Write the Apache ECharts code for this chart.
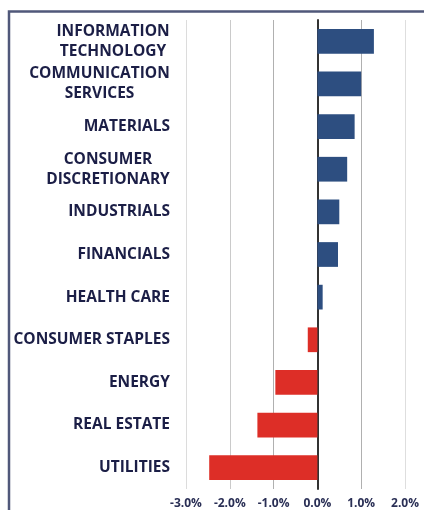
<!DOCTYPE html>
<html><head><meta charset="utf-8">
<script src="https://cdn.jsdelivr.net/npm/echarts@6/dist/echarts.min.js"></script>
<style>html,body{margin:0;padding:0;background:#fff}#c{width:424px;height:510px}</style>
</head><body><div id="c"></div>
<script>
const categories = ["INFORMATION\nTECHNOLOGY","COMMUNICATION\nSERVICES","MATERIALS","CONSUMER\nDISCRETIONARY","INDUSTRIALS","FINANCIALS","HEALTH CARE","CONSUMER STAPLES","ENERGY","REAL ESTATE","UTILITIES"];
const values = [1.29, 1.0, 0.85, 0.68, 0.50, 0.47, 0.12, -0.22, -0.96, -1.37, -2.47];
const xTicks = [-3, -2, -1, 0, 1, 2];

const FS = 15.5;
const FONT = 'bold ' + FS + 'px "Open Sans"';
const cv = document.createElement('canvas').getContext('2d');
cv.font = FONT;
function blockWidth(v){
  return Math.ceil(Math.max(...v.split('\n').map(l => cv.measureText(l).width)));
}
function fmtLabel(v){
  const lines = v.split('\n');
  if (lines.length === 1) return v;
  const w = blockWidth(v);
  return lines.map(l => '{c' + w + '|' + l + '}').join('\n');
}
const rich = {};
categories.forEach(v => {
  if (v.indexOf('\n') >= 0) {
    const w = blockWidth(v);
    rich['c' + w] = {width: w, align: 'center', fontFamily: 'Open Sans', fontWeight: 'bold', fontSize: FS, color: '#1b1e46', lineHeight: 20};
  }
});

const chart = echarts.init(document.getElementById('c'), null, {renderer: 'canvas'});
chart.setOption({
  animation: false,
  grid: {left: 186, right: 19, top: 20, bottom: 21, containLabel: false},
  xAxis: {
    type: 'value', min: -3, max: 2, interval: 1,
    axisLine: {show: false}, axisTick: {show: false},
    splitLine: {show: true, lineStyle: {color: ['#dcdcdc', '#cacaca', '#b0b0b0', '#b0b0b0', '#b0b0b0', '#dedede'], width: 1}},
    axisLabel: {
      margin: 9, fontFamily: 'Open Sans', fontWeight: 'bold', fontSize: 12, color: '#2a2f55',
      formatter: v => xTicks.includes(v) ? v.toFixed(1) + '%' : ''
    }
  },
  yAxis: {
    type: 'category', data: categories, inverse: true,
    axisLine: {show: true, onZero: true, lineStyle: {color: '#333333', width: 2}},
    axisTick: {show: false},
    axisLabel: {
      margin: 16, fontFamily: 'Open Sans', fontWeight: 'bold', fontSize: FS, color: '#1b1e46', lineHeight: 20,
      formatter: fmtLabel, rich: rich
    }
  },
  series: [{
    type: 'bar', barWidth: '58%',
    data: values.map(v => ({value: v, itemStyle: {color: v >= 0 ? '#2d4e80' : '#dd2e27'}})),
    z: 1
  }],
  graphic: [{
    type: 'polyline', silent: true, z: 100,
    shape: {points: [[9, 510], [9, 11.5], [424, 11.5]]},
    style: {stroke: '#50587a', lineWidth: 2.5, fill: null}
  }]
});
</script></body></html>
